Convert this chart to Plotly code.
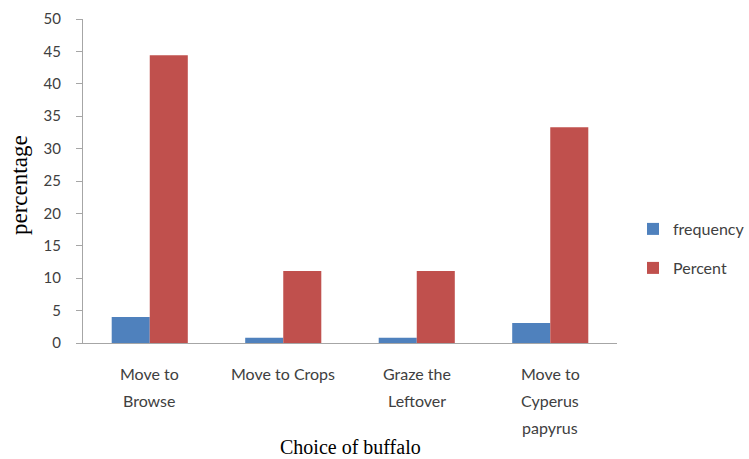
import plotly.graph_objects as go

categories = ["Move to Browse", "Move to Crops", "Graze the Leftover", "Move to Cyperus papyrus"]
category_lines = [["Move to", "Browse"], ["Move to Crops"], ["Graze the", "Leftover"], ["Move to", "Cyperus", "papyrus"]]
frequency = [4.0, 0.8, 0.8, 3.1]
percent = [44.4, 11.1, 11.1, 33.3]
y_ticks = [0, 5, 10, 15, 20, 25, 30, 35, 40, 45, 50]

BLUE = "#4F81BD"
RED = "#C0504D"
SANS = "Lato, 'Open Sans', sans-serif"
SERIF = "'Liberation Serif', 'Times New Roman', serif"
TICK_FONT = dict(family=SANS, size=15, color="#404040")
LEG_FONT = dict(family=SANS, size=16, color="#404040")
CAT_FONT = dict(family=SANS, size=16, color="#404040")

fig = go.Figure()
fig.add_trace(go.Bar(x=categories, y=frequency, name="frequency",
                     marker=dict(color=BLUE, line=dict(width=0)), legend="legend"))
fig.add_trace(go.Bar(x=categories, y=percent, name="Percent",
                     marker=dict(color=RED, line=dict(width=0)), legend="legend2"))

annotations = []
for cat, lines in zip(categories, category_lines):
    for i, line in enumerate(lines):
        annotations.append(dict(x=cat, xref="x", y=0, yref="paper", text=line,
                                showarrow=False, xanchor="center", yanchor="middle",
                                yshift=-30 - 27 * i, font=CAT_FONT))
annotations.append(dict(x=0.5, xref="paper", y=0, yref="paper", text="Choice of buffalo",
                        showarrow=False, xanchor="center", yanchor="middle", yshift=-104,
                        font=dict(family=SERIF, size=20, color="#000000")))
annotations.append(dict(x=0, xref="paper", y=0.5, yref="paper", text="percentage",
                        showarrow=False, xanchor="center", yanchor="middle", xshift=-64,
                        yshift=-4, textangle=-90,
                        font=dict(family=SERIF, size=23, color="#000000")))

fig.update_layout(
    width=749, height=459,
    margin=dict(l=83, r=132, t=19, b=116, autoexpand=False),
    paper_bgcolor="white", plot_bgcolor="white",
    barmode="group", bargap=0.43, bargroupgap=0,
    showlegend=True,
    legend=dict(xref="container", yref="container", x=633 / 749, xanchor="left",
                y=1 - 229 / 459, yanchor="middle",
                font=LEG_FONT, bgcolor="rgba(0,0,0,0)", itemwidth=30),
    legend2=dict(xref="container", yref="container", x=633 / 749, xanchor="left",
                 y=1 - 268 / 459, yanchor="middle",
                 font=LEG_FONT, bgcolor="rgba(0,0,0,0)", itemwidth=30),
    xaxis=dict(showline=True, linecolor="#A6A6A6", linewidth=1,
               ticks="", showgrid=False, showticklabels=False),
    yaxis=dict(range=[0, 50], tickvals=y_ticks, showgrid=False, zeroline=False,
               showline=True, linecolor="#A6A6A6", linewidth=1,
               ticks="outside", ticklen=6, tickcolor="#A6A6A6",
               tickfont=TICK_FONT, ticklabelstandoff=12),
    annotations=annotations,
)

fig.write_html("out.html")
